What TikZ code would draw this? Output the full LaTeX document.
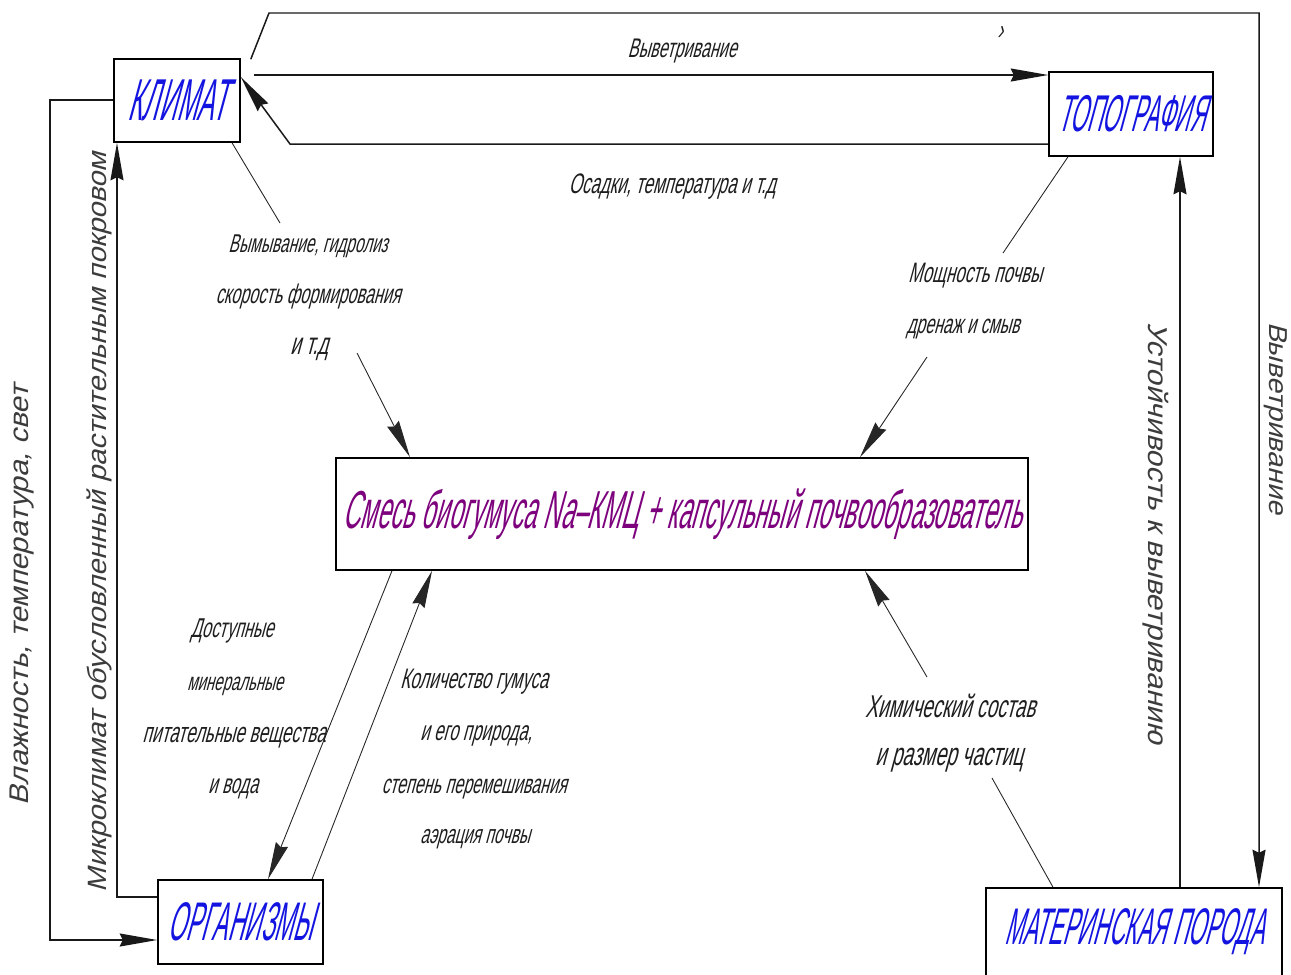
\documentclass[tikz,border=0pt]{standalone}
\usepackage{fontspec}
\usepackage{graphicx}
\usetikzlibrary{arrows.meta,calc}
\newfontfamily\gostlab[FakeStretch=0.6,FakeSlant=0.27]{Liberation Sans}
\newfontfamily\gostbox[FakeStretch=0.42,FakeSlant=0.27]{Liberation Sans}
\newfontfamily\gostmid[FakeStretch=0.45,FakeSlant=0.27]{Liberation Sans}
\newfontfamily\gostvert[FakeStretch=1.1,FakeSlant=0.27]{Liberation Sans}
\definecolor{boxblue}{RGB}{20,20,225}
\definecolor{mixpurple}{RGB}{125,0,125}
\definecolor{labgray}{RGB}{30,30,30}
\definecolor{vgray}{RGB}{60,60,60}
\newlength\pxu
\setlength\pxu{0.02cm}
\newcommand\fitw[2]{\resizebox{#1\pxu}{!}{#2}}
\tikzset{
  blk/.style={draw=black, line width=0.9pt, fill=white, inner sep=0pt, text=boxblue, font=\gostbox\fontsize{30}{30}\selectfont},
  mid/.style={draw=black, line width=0.9pt, fill=white, inner sep=0pt, text=mixpurple, font=\gostmid\fontsize{26}{26}\selectfont},
  lab/.style={inner sep=0pt, anchor=base, text=labgray, font=\gostlab\fontsize{17}{17}\selectfont},
  vlab/.style={inner sep=0pt, text=vgray, font=\gostvert\fontsize{14}{14}\selectfont},
  conn/.style={line width=0.85pt, draw=black!90},
  lead/.style={line width=0.5pt, draw=black!85},
  arr/.style={-{Stealth[length=0.75cm,width=0.26cm,inset=0.06cm]}},
}
\begin{document}
\begin{tikzpicture}[x=0.02cm,y=-0.02cm]
\useasboundingbox (0,0) rectangle (1291,974);
\clip (0,0) rectangle (1291,974);
\fill[white] (0,0) rectangle (1291,974);

% boxes
\node[blk, minimum width=2.52cm, minimum height=1.66cm] (klimat) at (177,100.5) {\fitw{99}{КЛИМАТ}};
\node[blk, minimum width=3.28cm, minimum height=1.68cm] (topo) at (1131,114) {\fitw{148}{ТОПОГРАФИЯ}};
\node[blk, minimum width=3.30cm, minimum height=1.68cm] (org) at (240.5,922) {\fitw{145}{ОРГАНИЗМЫ}};
\node[blk, minimum width=5.92cm, minimum height=1.76cm] (mat) at (1134,932) {\fitw{260}{МАТЕРИНСКАЯ ПОРОДА}};
\node[mid, minimum width=13.84cm, minimum height=2.24cm] (mix) at (682,514) {\fitw{679}{Смесь биогумуса Na–КМЦ + капсульный почвообразователь}};

% labels
\node[lab] (lw1) at (682,57) {\fitw{109}{Выветривание}};
\node[lab] (los) at (672,193) {\fitw{207}{Осадки, температура и т.д}};
\node[lab] (lv1) at (308,252) {\fitw{159}{Вымывание, гидролиз}};
\node[lab] (lv2) at (308,303) {\fitw{185}{скорость формирования}};
\node[lab] (lv3) at (309,354) {\fitw{38}{и т.д}};
\node[lab] (lm1) at (975,282) {\fitw{134}{Мощность почвы}};
\node[lab] (lm2) at (963,333) {\fitw{113}{дренаж и смыв}};
\node[lab] (ld1) at (232,637) {\fitw{83}{Доступные}};
\node[lab] (ld2) at (235,690) {\fitw{96}{минеральные}};
\node[lab] (ld3) at (234,742) {\fitw{183}{питательные вещества}};
\node[lab] (ld4) at (233,793) {\fitw{50}{и вода}};
\node[lab] (lk1) at (474,688) {\fitw{148}{Количество гумуса}};
\node[lab] (lk2) at (476,740) {\fitw{112}{и его природа,}};
\node[lab] (lk3) at (474,793) {\fitw{185}{степень перемешивания}};
\node[lab] (lk4) at (475,843) {\fitw{110}{аэрация почвы}};
\node[lab] (lh1) at (950,717) {\fitw{170}{Химический состав}};
\node[lab] (lh2) at (949,765) {\fitw{148}{и размер частиц}};
\node[inner sep=0pt, text=labgray, font=\gostlab\fontsize{16}{16}\selectfont] (tick) at (1000,33) {›};

% vertical labels
\node[vlab, rotate=90] (vl1) at (22,595) {\fitw{420}{Влажность, температура, свет}};
\node[vlab, rotate=90] (vl2) at (99,522) {\fitw{740}{Микроклимат обусловленный растительным покровом}};
\node[vlab, rotate=-90] (vr1) at (1276,418) {\fitw{192}{Выветривание}};
\node[vlab, rotate=-90] (vr2) at (1156,533) {\fitw{422}{Устойчивость к выветриванию}};

% helper coordinates
\coordinate (wt1) at (269,13);
\coordinate (wt2) at (1259,13);
\coordinate (k1) at (254,75);
\coordinate (o1) at (290,144);
\coordinate (y77) at (0,77);
\coordinate (l1) at (50,100);
\coordinate (l2) at (50,940);
\coordinate (i1) at (117,897);
\coordinate (r1) at (1180,500);
\coordinate (c1a) at (232,0);
\coordinate (c1b) at (280,223);
\coordinate (c1c) at (357,353);
\coordinate (c1d) at (410,0);
\coordinate (t1a) at (1068,0);
\coordinate (t1b) at (1003,253);
\coordinate (t1c) at (927,357);
\coordinate (t1d) at (860,0);
\coordinate (g1a) at (392,0);
\coordinate (g1b) at (268,0);
\coordinate (g2a) at (312,0);
\coordinate (g2b) at (432,0);
\coordinate (m1a) at (1053,0);
\coordinate (m1b) at (992,778);
\coordinate (m1c) at (927,677);
\coordinate (m1d) at (865,0);

% connectors
\draw[conn,arr] ($(klimat.north east)+(10,1)$) -- (wt1) -- (wt2) -- (wt2 |- mat.north);
\draw[conn,arr] (k1) -- (k1 -| topo.west);
\draw[conn,arr] (o1 -| topo.west) -- (o1) -- (klimat.east |- y77);
\draw[conn,arr] (klimat.west |- l1) -- (l1) -- (l2) -- (l2 -| org.west);
\draw[conn,arr] (i1 -| org.west) -- (i1) -- (i1 |- klimat.south);
\draw[conn,arr] (r1 |- mat.north) -- (r1 |- topo.south);

\draw[lead] (c1a |- klimat.south) -- (c1b);
\draw[lead,arr] (c1c) -- (c1d |- mix.north);
\draw[lead] (t1a |- topo.south) -- (t1b);
\draw[lead,arr] (t1c) -- (t1d |- mix.north);
\draw[lead,arr] (g1a |- mix.south) -- (g1b |- org.north);
\draw[lead,arr] (g2a |- org.north) -- (g2b |- mix.south);
\draw[lead] (m1a |- mat.north) -- (m1b);
\draw[lead,arr] (m1c) -- (m1d |- mix.south);
\end{tikzpicture}
\end{document}
